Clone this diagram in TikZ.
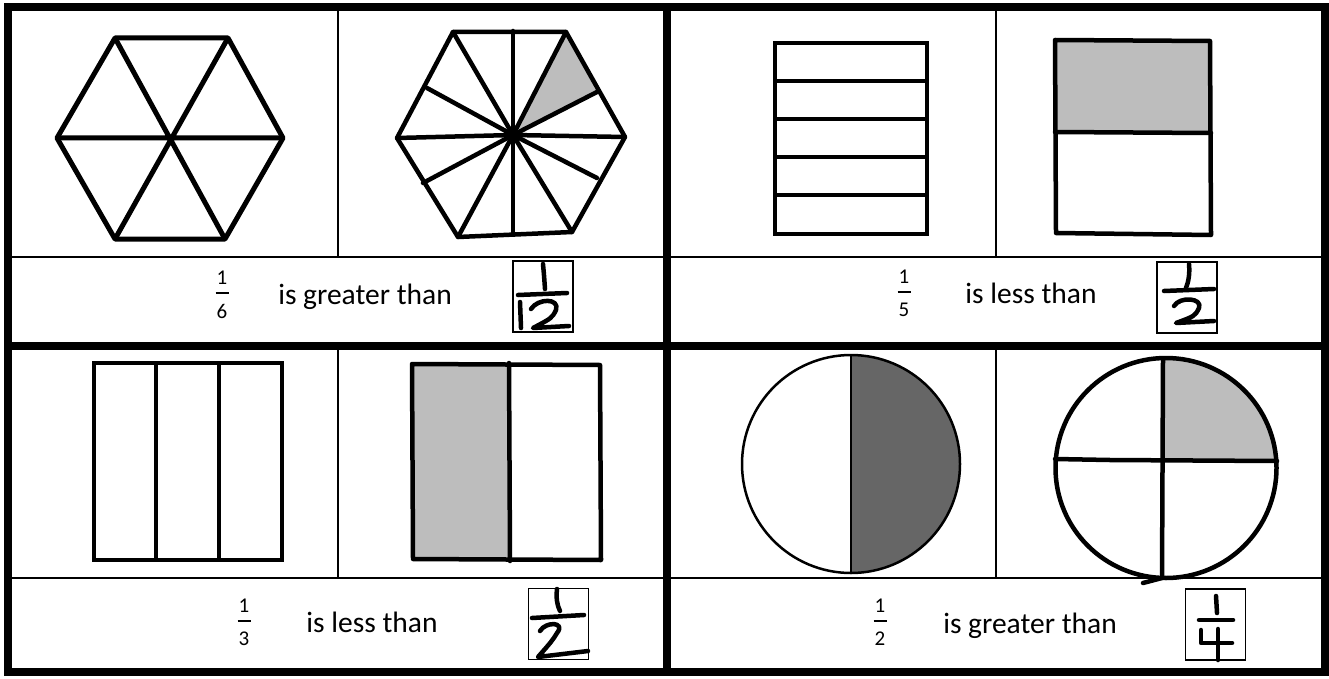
\documentclass[tikz,border=0pt]{standalone}
\usepackage{fontspec}
\setmainfont{Carlito}
\usetikzlibrary{calc}

\definecolor{lightfill}{HTML}{BDBDBD}
\definecolor{darkfill}{HTML}{666666}

\tikzset{
  heavy/.style={line width=8pt},
  rowline/.style={line width=2.6pt},
  sepline/.style={line width=2pt},
  pen/.style={line width=4.5pt, line cap=round, line join=round},
  hand/.style={line width=4.5pt, line cap=round, line join=round},
  ansbox/.style={draw, line width=1.3pt, inner sep=0pt, minimum width=60pt, minimum height=71pt},
  words/.style={font=\fontsize{29.5}{31}\selectfont, inner sep=0pt, anchor=base},
  digit/.style={font=\fontsize{21}{23}\selectfont, inner sep=0pt},
}

% typed fraction: name, x, y of the bar, numerator, denominator
\newcommand{\typedfrac}[5]{%
  \node[digit] (#1-num) at (#2,#3-15) {#4};
  \draw[line width=2.4pt] (#2-6.5,#3) -- (#2+6.5,#3);
  \node[digit] (#1-den) at (#2,#3+18) {#5};
}

\begin{document}
\begin{tikzpicture}[x=1pt,y=-1pt]
    \useasboundingbox (0,0) rectangle (1329,679);

    % Draw the frame and the four quarters
    \draw[heavy] (8,7.5) rectangle (1325,672);
    \draw[heavy] (667,7.5) -- (667,672);
    \draw[heavy] (8,346) -- (1325,346);

    % Draw the text rows and the picture separators
    \draw[rowline] (8,257) -- (1325,257);
    \draw[rowline] (8,578) -- (1325,578);
    \foreach \x in {338,996} {
        \draw[sepline] (\x,7.5) -- (\x,257);
        \draw[sepline] (\x,346) -- (\x,578);
    }

    % Hexagon cut into six
    \coordinate (a1) at (115,38);
    \coordinate (a2) at (228,38);
    \coordinate (a3) at (283,138);
    \coordinate (a4) at (225,239);
    \coordinate (a5) at (115,239);
    \coordinate (a6) at (57,138);
    \draw[line width=5pt, line join=round] (a1) -- (a2) -- (a3) -- (a4) -- (a5) -- (a6) -- cycle;
    \draw[line width=5pt] (a1) -- (a4) (a2) -- (a5) (a3) -- (a6);

    % Hexagon cut into twelve, one part shaded
    \coordinate (c) at (513,135);
    \coordinate (b1) at (453,32);
    \coordinate (b2) at (566,32);
    \coordinate (b3) at (625,137);
    \coordinate (b4) at (572,232);
    \coordinate (b5) at (458,237);
    \coordinate (b6) at (397,138);
    \fill[lightfill] (c) -- (b2) -- (597,92) -- cycle;
    \draw[pen] (b1) -- (b2) -- (b3) -- (b4) -- (b5) -- (b6) -- cycle;
    \foreach \p in {b1,b2,b3,b4,b5,b6}
        \draw[pen] (c) -- (\p);
    \foreach \p in {(513,31),(597,92),(597,178),(513,234),(423,183),(427,88)}
        \draw[pen] (c) -- \p;

    % Rectangle cut into five
    \draw[line width=3.3pt] (775,43) rectangle (927,234);
    \foreach \y in {81,119,157,195}
        \draw[line width=3.3pt] (775,\y) -- (927,\y);

    % Rectangle cut into two, top part shaded
    \fill[lightfill] (1055,40) rectangle (1210,132);
    \draw[pen] (1055,40) -- (1210,41) -- (1211,235) -- (1056,233) -- cycle;
    \draw[pen] (1055,132) -- (1211,133);

    % Rectangle cut into three
    \draw[line width=3.3pt] (94,363) rectangle (282,560);
    \foreach \x in {156,219}
        \draw[line width=3.3pt] (\x,363) -- (\x,560);

    % Rectangle cut into two, left part shaded
    \fill[lightfill] (412,364) rectangle (509,560);
    \draw[pen] (412,364) -- (600,365) -- (601,560) -- (413,559) -- cycle;
    \draw[pen] (509,363) -- (510,561);

    % Circle cut into two, right half dark
    \begin{scope}
        \clip (851,340) rectangle (975,580);
        \fill[darkfill] (851,464) circle [radius=109];
    \end{scope}
    \draw[line width=2.5pt] (851,464) circle [radius=109];
    \draw[line width=2.5pt] (851,355) -- (851,573);

    % Circle cut into four, one quarter shaded
    \begin{scope}
        \clip (1163,460) rectangle (1290,340);
        \fill[lightfill] (1166,468) ellipse [x radius=110.5, y radius=110];
    \end{scope}
    \draw[pen] (1166,468) ellipse [x radius=110.5, y radius=110];
    \draw[pen] (1055,459) -- (1110,460) -- (1277,461);
    \draw[pen] (1163,359) -- (1162,578) -- (1143,583);

    % Text rows
    \typedfrac{f1}{222}{293}{1}{6}
    \node[words] (t1) at (365,304) {is greater than};
    \typedfrac{f2}{904}{292}{1}{5}
    \node[words] (t2) at (1031,303) {is less than};
    \typedfrac{f3}{244}{621}{1}{3}
    \node[words] (t3) at (372,632) {is less than};
    \typedfrac{f4}{880}{621}{1}{2}
    \node[words] (t4) at (1030,633) {is greater than};

    % Handwritten answers
    \node[ansbox] (w1) at (543,296.5) {};
    \draw[hand] (543,264) .. controls (544,275) .. (545,289);
    \draw[hand] (518,295) -- (567,293);
    \draw[hand] (520,302) -- (521,328);
    \draw[hand] (531,309) .. controls (538,298) and (560,298) .. (556,310) .. controls (552,318) .. (533,328) -- (569,326);

    \node[ansbox] (w2) at (1187,297.5) {};
    \draw[hand] (1189,264) .. controls (1190,275) and (1188,283) .. (1186,288);
    \draw[hand] (1164,291) -- (1214,289);
    \draw[hand] (1174,306) .. controls (1180,296) and (1203,298) .. (1199,308) .. controls (1195,316) .. (1176,323) -- (1214,321);

    \node[ansbox] (w3) at (558.5,624) {};
    \draw[hand] (557,589) .. controls (556,598) and (557,605) .. (560,611);
    \draw[hand] (532,618) -- (584,615);
    \draw[hand] (540,631) .. controls (546,621) and (566,622) .. (557,633) .. controls (552,641) .. (538,657) -- (588,651);

    \node[ansbox] (w4) at (1215.5,624.5) {};
    \draw[hand] (1216,596) -- (1217,613);
    \draw[hand] (1199,620) -- (1233,620);
    \draw[hand] (1201,630) -- (1201,643) -- (1232,643);
    \draw[hand] (1218,629) -- (1218,660);
\end{tikzpicture}
\end{document}
